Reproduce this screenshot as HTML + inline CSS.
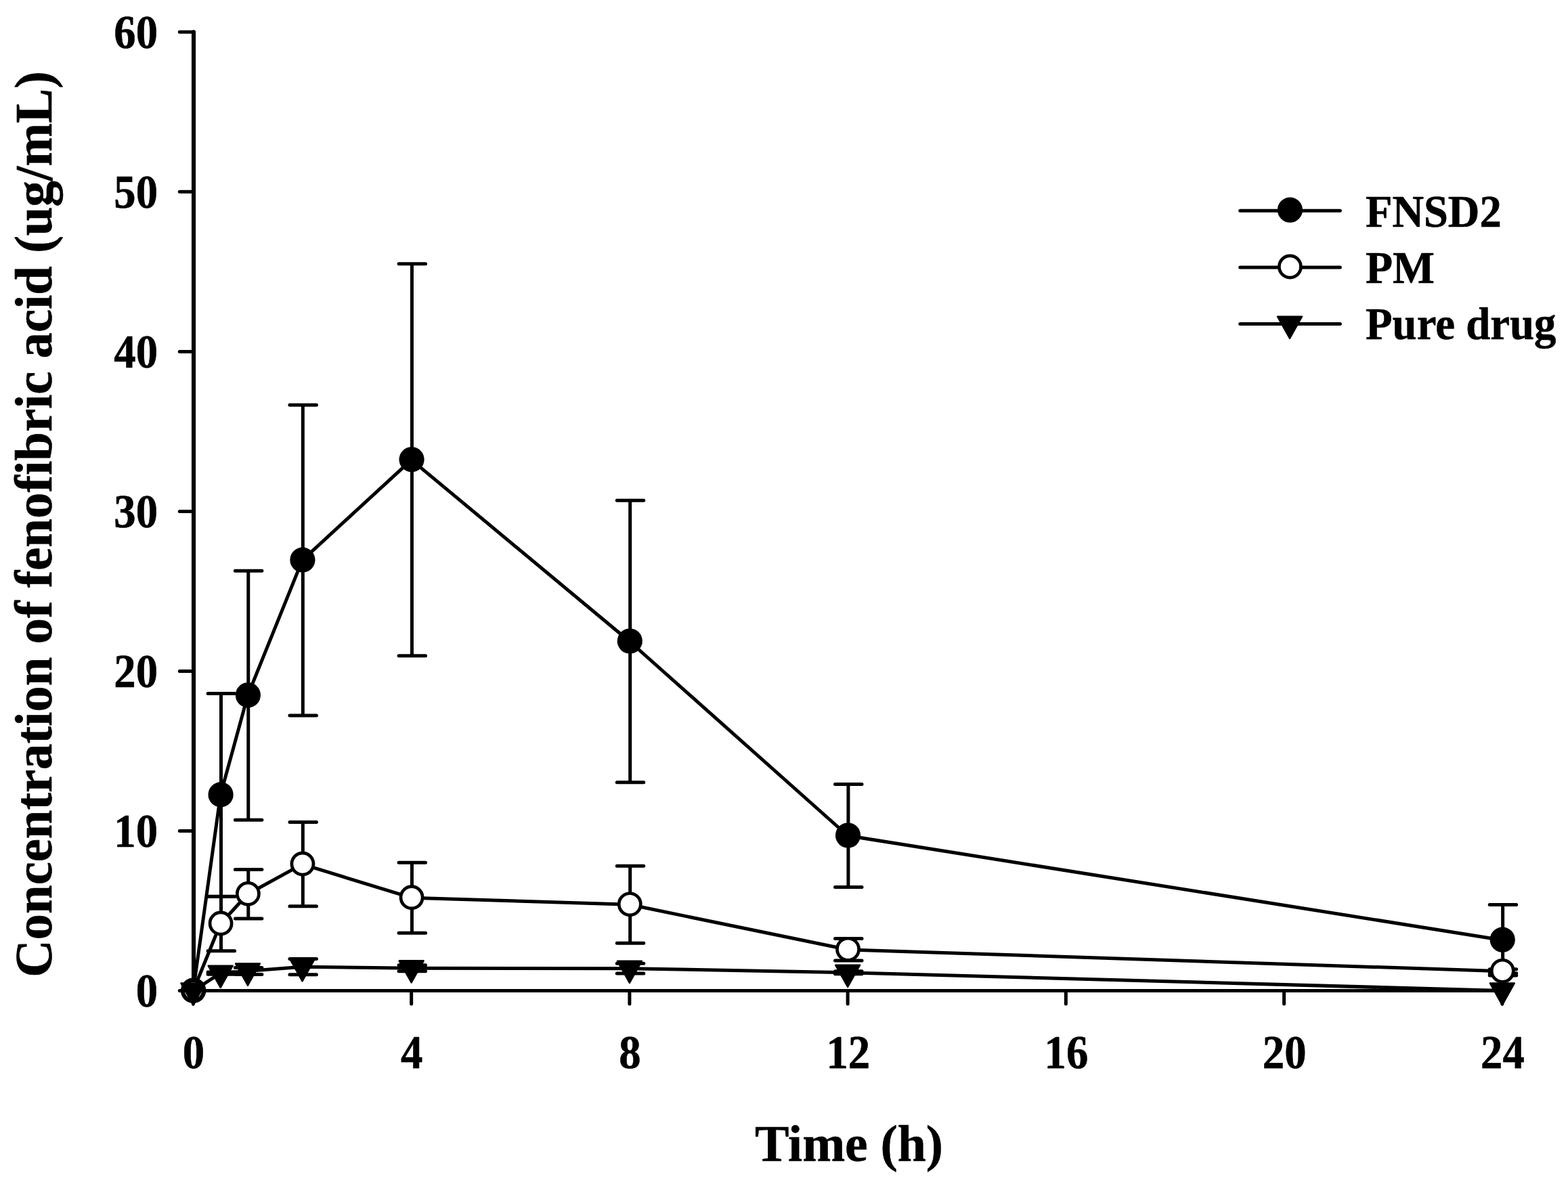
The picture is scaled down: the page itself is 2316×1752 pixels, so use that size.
<!DOCTYPE html>
<html lang="en"><head><meta charset="utf-8"><title>Concentration of fenofibric acid vs time</title>
<style>
html,body{margin:0;padding:0;background:#fff}
body{width:2316px;height:1752px;overflow:hidden}
svg{display:block}
text{font-family:"Liberation Serif","DejaVu Serif",serif;font-weight:bold;fill:#000;stroke:#000;stroke-width:0.6px;stroke-linejoin:round}
.tk{font-size:66.7px}
.lg{font-size:66.7px}
.ti{font-size:75px}
</style></head><body>
<svg width="2316" height="1752" viewBox="0 0 2316 1752">
<rect width="2316" height="1752" fill="#fff"/>
<g class="axes" fill="none" stroke="#000" stroke-linecap="round">
<path d="M286 47.32 V1463.5" stroke-width="6.1"/>
<path d="M285.4 1463.5 H2218.84" stroke-width="5.0"/>
<path d="M265.3 1463.5 H286M265.3 1227.47 H286M265.3 991.44 H286M265.3 755.41 H286M265.3 519.38 H286M265.3 283.35 H286M265.3 47.32 H286" stroke-width="5.0"/>
<path d="M285.4 1463.5 V1482.9M607.64 1463.5 V1482.9M929.88 1463.5 V1482.9M1252.12 1463.5 V1482.9M1574.36 1463.5 V1482.9M1896.6 1463.5 V1482.9M2218.84 1463.5 V1482.9" stroke-width="5.0"/>
</g>
<g class="fnsd2">
<path d="M326.48 1024.4 V1324.4 M307.08 1024.4 H346.58 M307.08 1324.4 H346.58 M366.76 843.3 V1211.3 M347.36 843.3 H386.86 M347.36 1211.3 H386.86 M447.32 598.2 V1057 M427.92 598.2 H467.42 M427.92 1057 H467.42 M608.44 389.8 V968.8 M589.04 389.8 H628.54 M589.04 968.8 H628.54 M930.68 739.2 V1155.8 M911.28 739.2 H950.78 M911.28 1155.8 H950.78 M1252.92 1158.5 V1310.5 M1233.52 1158.5 H1273.02 M1233.52 1310.5 H1273.02 M2219.64 1336.4 V1441 M2200.24 1336.4 H2239.74 M2200.24 1441 H2239.74" fill="none" stroke="#000" stroke-width="5.0" stroke-linecap="round"/>
<polyline points="285.4,1463.5 325.68,1174.4 365.96,1027.3 446.52,827.6 607.64,679.3 929.88,947.5 1252.12,1234.5 2218.84,1388.7" fill="none" stroke="#000" stroke-width="5.0" stroke-linejoin="round" stroke-linecap="round"/>
<circle cx="285.8" cy="1463" r="18.6" fill="#000"/>
<circle cx="326.08" cy="1173.9" r="18.6" fill="#000"/>
<circle cx="366.36" cy="1026.8" r="18.6" fill="#000"/>
<circle cx="446.92" cy="827.1" r="18.6" fill="#000"/>
<circle cx="608.04" cy="678.8" r="18.6" fill="#000"/>
<circle cx="930.28" cy="947" r="18.6" fill="#000"/>
<circle cx="1252.52" cy="1234" r="18.6" fill="#000"/>
<circle cx="2219.24" cy="1388.2" r="18.6" fill="#000"/>
</g>
<g class="pm">
<path d="M326.48 1324.3 V1404.7 M307.08 1324.3 H346.58 M307.08 1404.7 H346.58 M366.76 1284.6 V1357 M347.36 1284.6 H386.86 M347.36 1357 H386.86 M447.32 1214.4 V1338.8 M427.92 1214.4 H467.42 M427.92 1338.8 H467.42 M608.44 1274.2 V1378.2 M589.04 1274.2 H628.54 M589.04 1378.2 H628.54 M930.68 1279.3 V1393.3 M911.28 1279.3 H950.78 M911.28 1393.3 H950.78 M1252.92 1386.5 V1419.1 M1233.52 1386.5 H1273.02 M1233.52 1419.1 H1273.02 M2219.64 1431.8 V1437.8 M2200.24 1431.8 H2239.74 M2200.24 1437.8 H2239.74" fill="none" stroke="#000" stroke-width="5.0" stroke-linecap="round"/>
<polyline points="285.4,1463.5 325.68,1364.5 365.96,1320.8 446.52,1276.6 607.64,1326.2 929.88,1336.3 1252.12,1402.8 2218.84,1434.8" fill="none" stroke="#000" stroke-width="5.0" stroke-linejoin="round" stroke-linecap="round"/>
<circle cx="285.4" cy="1463.5" r="15.4" fill="#fff" stroke="#000" stroke-width="6"/>
<circle cx="326.08" cy="1364" r="16.05" fill="#fff" stroke="#000" stroke-width="4.7"/>
<circle cx="366.36" cy="1320.3" r="16.05" fill="#fff" stroke="#000" stroke-width="4.7"/>
<circle cx="446.92" cy="1276.1" r="16.05" fill="#fff" stroke="#000" stroke-width="4.7"/>
<circle cx="608.04" cy="1325.7" r="16.05" fill="#fff" stroke="#000" stroke-width="4.7"/>
<circle cx="930.28" cy="1335.8" r="16.05" fill="#fff" stroke="#000" stroke-width="4.7"/>
<circle cx="1252.52" cy="1402.3" r="16.05" fill="#fff" stroke="#000" stroke-width="4.7"/>
<circle cx="2219.24" cy="1434.3" r="16.05" fill="#fff" stroke="#000" stroke-width="4.7"/>
</g>
<g class="pure">
<path d="M326.48 1435.9 V1439.3 M307.08 1435.9 H346.58 M307.08 1439.3 H346.58 M366.76 1429.4 V1439.6 M347.36 1429.4 H386.86 M347.36 1439.6 H386.86 M447.32 1416.6 V1439.8 M427.92 1416.6 H467.42 M427.92 1439.8 H467.42 M608.44 1425.8 V1434.8 M589.04 1425.8 H628.54 M589.04 1434.8 H628.54 M930.68 1423.3 V1438.1 M911.28 1423.3 H950.78 M911.28 1438.1 H950.78 M1252.92 1434.7 V1438.7 M1233.52 1434.7 H1273.02 M1233.52 1438.7 H1273.02" fill="none" stroke="#000" stroke-width="5.0" stroke-linecap="round"/>
<polyline points="285.4,1463.5 325.68,1437.6 365.96,1434.5 446.52,1428.2 607.64,1430.3 929.88,1430.7 1252.12,1436.7 2218.84,1463.5" fill="none" stroke="#000" stroke-width="5.0" stroke-linejoin="round" stroke-linecap="round"/>
<path d="M267.4 1452.5 H303.4 L285.4 1484.7 Z" fill="#000" stroke="#000" stroke-width="2.4" stroke-linejoin="round"/>
<path d="M307.68 1426.6 H343.68 L325.68 1458.8 Z" fill="#000" stroke="#000" stroke-width="2.4" stroke-linejoin="round"/>
<path d="M347.96 1423.5 H383.96 L365.96 1455.7 Z" fill="#000" stroke="#000" stroke-width="2.4" stroke-linejoin="round"/>
<path d="M428.52 1417.2 H464.52 L446.52 1449.4 Z" fill="#000" stroke="#000" stroke-width="2.4" stroke-linejoin="round"/>
<path d="M589.64 1419.3 H625.64 L607.64 1451.5 Z" fill="#000" stroke="#000" stroke-width="2.4" stroke-linejoin="round"/>
<path d="M911.88 1419.7 H947.88 L929.88 1451.9 Z" fill="#000" stroke="#000" stroke-width="2.4" stroke-linejoin="round"/>
<path d="M1234.12 1425.7 H1270.12 L1252.12 1457.9 Z" fill="#000" stroke="#000" stroke-width="2.4" stroke-linejoin="round"/>
<path d="M2200.84 1452.5 H2236.84 L2218.84 1484.7 Z" fill="#000" stroke="#000" stroke-width="2.4" stroke-linejoin="round"/>
</g>
<g class="legend">
<path d="M1831.7 311.3 H1979.4" fill="none" stroke="#000" stroke-width="5.0" stroke-linecap="round"/>
<circle cx="1905.4" cy="310.2" r="18.6" fill="#000"/>
<text class="lg" transform="translate(2017 335.1) scale(0.967 1)">FNSD2</text>
<path d="M1831.7 395 H1979.4" fill="none" stroke="#000" stroke-width="5.0" stroke-linecap="round"/>
<circle cx="1905.4" cy="394" r="16.05" fill="#fff" stroke="#000" stroke-width="4.7"/>
<text class="lg" transform="translate(2017 418.0) scale(0.984 1)">PM</text>
<path d="M1831.7 478.6 H1979.4" fill="none" stroke="#000" stroke-width="5.0" stroke-linecap="round"/>
<path d="M1887 467.6 H1923 L1905 499.8 Z" fill="#000" stroke="#000" stroke-width="2.4" stroke-linejoin="round"/>
<text class="lg" transform="translate(2017 501.4) scale(0.972 1)">Pure drug</text>
</g>
<g class="ticklabels">
<text class="tk" text-anchor="end" transform="translate(233 1487.4) scale(0.97 1.06)">0</text>
<text class="tk" text-anchor="end" transform="translate(233 1251.37) scale(0.97 1.06)">10</text>
<text class="tk" text-anchor="end" transform="translate(233 1015.34) scale(0.97 1.06)">20</text>
<text class="tk" text-anchor="end" transform="translate(233 779.31) scale(0.97 1.06)">30</text>
<text class="tk" text-anchor="end" transform="translate(233 543.28) scale(0.97 1.06)">40</text>
<text class="tk" text-anchor="end" transform="translate(233 307.25) scale(0.97 1.06)">50</text>
<text class="tk" text-anchor="end" transform="translate(233 71.22) scale(0.97 1.06)">60</text>
<text class="tk" text-anchor="middle" transform="translate(286 1577.7) scale(0.97 1.06)">0</text>
<text class="tk" text-anchor="middle" transform="translate(608.24 1577.7) scale(0.97 1.06)">4</text>
<text class="tk" text-anchor="middle" transform="translate(930.48 1577.7) scale(0.97 1.06)">8</text>
<text class="tk" text-anchor="middle" transform="translate(1252.72 1577.7) scale(0.97 1.06)">12</text>
<text class="tk" text-anchor="middle" transform="translate(1574.96 1577.7) scale(0.97 1.06)">16</text>
<text class="tk" text-anchor="middle" transform="translate(1897.2 1577.7) scale(0.97 1.06)">20</text>
<text class="tk" text-anchor="middle" transform="translate(2219.44 1577.7) scale(0.97 1.06)">24</text>
</g>
<text class="ti" text-anchor="middle" transform="translate(1254 1714.7) scale(1.008 1.028)">Time (h)</text>
<text class="ti" text-anchor="middle" transform="translate(76.1 774.5) rotate(-90) scale(1.0235 1.039)">Concentration of fenofibric acid (ug/mL)</text>
</svg>
</body></html>
